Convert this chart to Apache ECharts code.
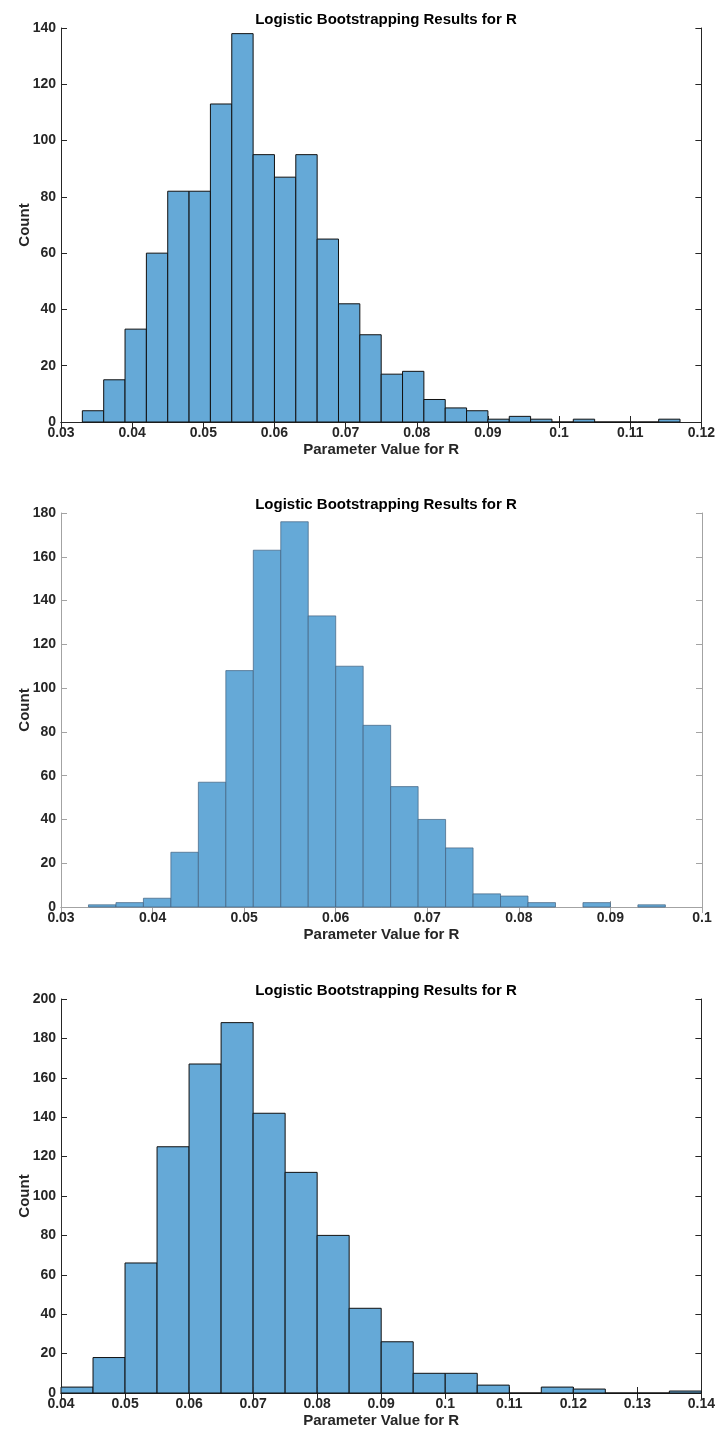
<!DOCTYPE html>
<html>
<head>
<meta charset="utf-8">
<script src="https://cdn.jsdelivr.net/npm/echarts@6/dist/echarts.min.js"></script>
<style>
  html, body { margin: 0; padding: 0; background: #fff; }
  #main { width: 718px; height: 1429px; }
</style>
</head>
<body>
<div id="main"></div>
<script>
// bin edges and counts
var edges1 = [0.033, 0.036, 0.039, 0.042, 0.045, 0.048, 0.051, 0.054, 0.057, 0.060,
              0.063, 0.066, 0.069, 0.072, 0.075, 0.078, 0.081, 0.084, 0.087, 0.090,
              0.093, 0.096, 0.099, 0.102, 0.105, 0.108, 0.111, 0.114, 0.117];
var counts1 = [4, 15, 33, 60, 82, 82, 113, 138, 95, 87,
               95, 65, 42, 31, 17, 18, 8, 5, 4, 1,
               2, 1, 0, 1, 0, 0, 0, 1];

var edges2 = [0.033, 0.036, 0.039, 0.042, 0.045, 0.048, 0.051, 0.054, 0.057, 0.060,
              0.063, 0.066, 0.069, 0.072, 0.075, 0.078, 0.081, 0.084, 0.087, 0.090,
              0.093, 0.096];
var counts2 = [1, 2, 4, 25, 57, 108, 163, 176, 133, 110,
               83, 55, 40, 27, 6, 5, 2, 0, 2, 0, 1];

var edges3 = [0.040, 0.045, 0.050, 0.055, 0.060, 0.065, 0.070, 0.075, 0.080, 0.085,
              0.090, 0.095, 0.100, 0.105, 0.110, 0.115, 0.120, 0.125, 0.130, 0.135, 0.140];
var counts3 = [3, 18, 66, 125, 167, 188, 142, 112, 80, 43,
               26, 10, 10, 4, 0, 3, 2, 0, 0, 1];

var titleText = 'Logistic Bootstrapping Results for R';
var xName = 'Parameter Value for R';
var yName = 'Count';

var FONT = '"Liberation Sans", Arial, sans-serif';
var FILL = '#65a9d7';

var panels = [
  { edges: edges1, counts: counts1, xmin: 0.03, xmax: 0.12, ymax: 140, top: 28,
    box: '#262626', edge: '#111111', edgeW: 1, showEmpty: true },
  { edges: edges2, counts: counts2, xmin: 0.03, xmax: 0.10, ymax: 180, top: 513,
    box: '#a3a3a3', edge: '#41607e', edgeW: 0.7, showEmpty: false },
  { edges: edges3, counts: counts3, xmin: 0.04, xmax: 0.14, ymax: 200, top: 999,
    box: '#262626', edge: '#111111', edgeW: 1, showEmpty: true }
];

var chart = echarts.init(document.getElementById('main'));

var grids = [], xAxes = [], yAxes = [], series = [], titles = [];

panels.forEach(function (p, g) {
  grids.push({ left: 61, width: 641, top: p.top, height: 394 });
  titles.push({
    text: titleText, left: 381, top: p.top - 21, textAlign: 'center',
    textStyle: { fontFamily: FONT, fontSize: 15, fontWeight: 'bold', color: '#000' }
  });

  var lineStyle = { color: p.box, width: 1 };
  var labelStyle = { fontFamily: FONT, fontSize: 14, fontWeight: 'bold', color: '#262626' };
  var nameStyle = { fontFamily: FONT, fontSize: 15, fontWeight: 'bold', color: '#262626' };

  xAxes.push({
    gridIndex: g, type: 'value', position: 'bottom',
    min: p.xmin, max: p.xmax, interval: 0.01,
    name: xName, nameLocation: 'middle', nameGap: 20, nameMoveOverlap: false,
    nameTextStyle: nameStyle,
    axisLine: { show: true, lineStyle: lineStyle },
    axisTick: { show: true, inside: true, length: 6, lineStyle: lineStyle },
    axisLabel: Object.assign({ margin: 4 }, labelStyle),
    splitLine: { show: false }
  });
  xAxes.push({
    gridIndex: g, type: 'value', position: 'top',
    min: p.xmin, max: p.xmax, interval: 0.01,
    axisLine: { show: true, lineStyle: lineStyle },
    axisTick: { show: true, inside: true, length: 6, lineStyle: lineStyle },
    axisLabel: { show: false },
    splitLine: { show: false }
  });
  yAxes.push({
    gridIndex: g, type: 'value', position: 'left',
    min: 0, max: p.ymax, interval: 20,
    name: yName, nameLocation: 'middle', nameGap: 29, nameRotate: 90, nameMoveOverlap: false,
    nameTextStyle: nameStyle,
    axisLine: { show: true, lineStyle: lineStyle },
    axisTick: { show: true, inside: true, length: 6, lineStyle: lineStyle },
    axisLabel: Object.assign({ margin: 5 }, labelStyle),
    splitLine: { show: false }
  });
  yAxes.push({
    gridIndex: g, type: 'value', position: 'right',
    min: 0, max: p.ymax, interval: 20,
    axisLine: { show: true, lineStyle: lineStyle },
    axisTick: { show: true, inside: true, length: 6, lineStyle: lineStyle },
    axisLabel: { show: false },
    splitLine: { show: false }
  });

  var data = p.counts.map(function (c, i) {
    return [p.edges[i], p.edges[i + 1], c];
  });

  series.push({
    type: 'custom',
    xAxisIndex: 2 * g,
    yAxisIndex: 2 * g,
    data: data,
    renderItem: function (params, api) {
      if (!p.showEmpty && api.value(2) === 0) return null;
      var a = api.coord([api.value(0), 0]);
      var b = api.coord([api.value(1), api.value(2)]);
      return {
        type: 'rect',
        shape: { x: a[0], y: b[1], width: b[0] - a[0], height: a[1] - b[1] },
        style: { fill: FILL, stroke: p.edge, lineWidth: p.edgeW }
      };
    }
  });
});

chart.setOption({
  animation: false,
  backgroundColor: '#fff',
  title: titles,
  grid: grids,
  xAxis: xAxes,
  yAxis: yAxes,
  series: series
});
</script>
</body>
</html>
